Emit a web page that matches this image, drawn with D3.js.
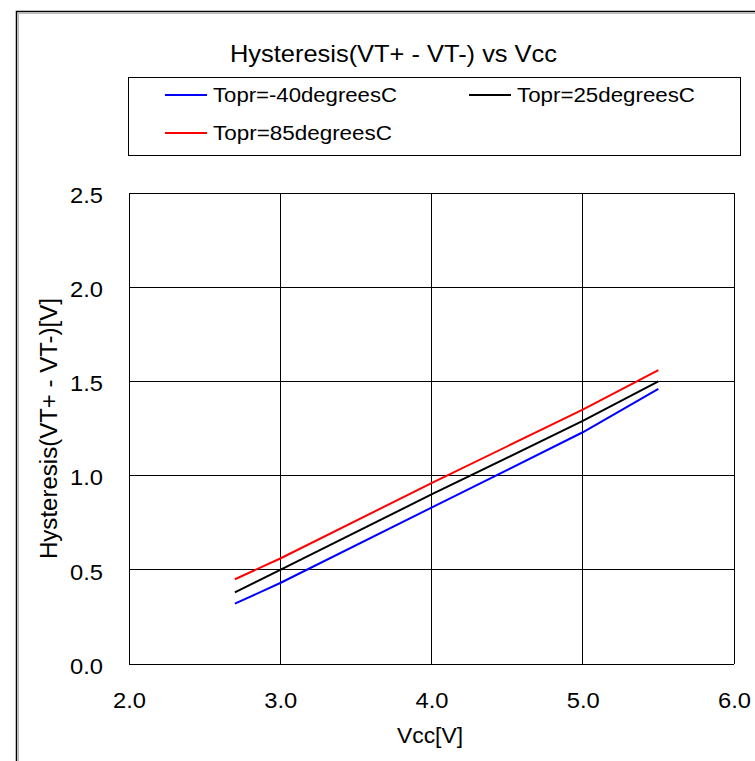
<!DOCTYPE html>
<html lang="en">
<head>
  <meta charset="UTF-8">
  <title>Hysteresis vs Vcc</title>
  <script src="https://d3js.org/d3.v7.min.js"></script>
  <style>
    body { margin: 0; background: #fff; }
    text { font-family: "Liberation Sans", Arial, sans-serif; fill: #000; }
  </style>
</head>
<body>
  <script>
    // data
    const vcc = [2.7, 3.0, 4.0, 5.0, 5.5];
    const hysM40 = [0.32, 0.43, 0.83, 1.23, 1.46];
    const hys25 = [0.38, 0.50, 0.90, 1.29, 1.50];
    const hys85 = [0.45, 0.56, 0.96, 1.35, 1.56];
    const seriesNames = ["Topr=-40degreesC", "Topr=25degreesC", "Topr=85degreesC"];
    const xTicks = [2.0, 3.0, 4.0, 5.0, 6.0];
    const yTicks = [0.0, 0.5, 1.0, 1.5, 2.0, 2.5];

    const colors = ["#0000ff", "#000000", "#ff0000"];
    const series = [hysM40, hys25, hys85].map((v, i) => ({
      name: seriesNames[i], color: colors[i],
      pts: vcc.map((x, j) => [x, v[j]])
    }));

    const width = 755, height = 761;
    const svg = d3.select("body").append("svg")
      .attr("width", width).attr("height", height);

    // outer frame
    svg.append("rect").attr("x", 16.5).attr("y", 11.5)
      .attr("width", width).attr("height", height)
      .attr("fill", "none").attr("stroke", "#000").attr("stroke-width", 1.5);
    svg.append("rect").attr("x", 18.5).attr("y", 13.5)
      .attr("width", width).attr("height", height)
      .attr("fill", "none").attr("stroke", "#bbb").attr("stroke-width", 1);

    const x = d3.scaleLinear().domain([2, 6]).range([129, 734]);
    const y = d3.scaleLinear().domain([0, 2.5]).range([664, 193]);

    // grid
    const grid = svg.append("g").attr("shape-rendering", "crispEdges");
    grid.selectAll(".vx").data(xTicks).enter().append("line")
      .attr("x1", d => x(d)).attr("x2", d => x(d))
      .attr("y1", y(0)).attr("y2", y(2.5))
      .attr("stroke", "#000").attr("stroke-width", 1);
    grid.selectAll(".hy").data(yTicks).enter().append("line")
      .attr("x1", x(2)).attr("x2", x(6))
      .attr("y1", d => y(d)).attr("y2", d => y(d))
      .attr("stroke", "#000").attr("stroke-width", 1);

    // axes (labels only)
    const xAxis = svg.append("g").attr("transform", "translate(0,708)")
      .call(d3.axisBottom(x).tickValues(xTicks).tickFormat(d3.format(".1f")).tickSize(0));
    xAxis.selectAll("text").attr("y", 0).attr("dy", 0);
    const yAxis = svg.append("g").attr("transform", "translate(106,0)")
      .call(d3.axisLeft(y).tickValues(yTicks).tickFormat(d3.format(".1f")).tickSize(0));
    yAxis.selectAll("text").attr("dy", "0.42em");
    [xAxis, yAxis].forEach(a => {
      a.select(".domain").remove();
      a.selectAll("text").attr("font-size", 22)
        .attr("font-family", "'Liberation Sans', Arial, sans-serif").attr("fill", "#000")
        .attr("textLength", 33).attr("lengthAdjust", "spacingAndGlyphs");
    });

    // lines
    const line = d3.line().x(d => x(d[0])).y(d => y(d[1]));
    svg.selectAll(".series").data(series).enter().append("path")
      .attr("d", d => line(d.pts))
      .attr("fill", "none")
      .attr("stroke", d => d.color)
      .attr("stroke-width", 2);

    // title
    svg.append("text").attr("x", 230).attr("y", 62)
      .attr("font-size", 24)
      .attr("textLength", 327).attr("lengthAdjust", "spacingAndGlyphs")
      .text("Hysteresis(VT+ - VT-) vs Vcc");

    // legend
    svg.append("rect").attr("x", 128.5).attr("y", 77.5)
      .attr("width", 612).attr("height", 78)
      .attr("fill", "#fff").attr("stroke", "#000").attr("stroke-width", 1);
    const legPos = [[165, 95], [469, 95], [165, 133]];
    const legLen = [184, 178, 179];
    const leg = svg.selectAll(".leg").data(series).enter().append("g")
      .attr("transform", (d, i) => `translate(${legPos[i][0]},${legPos[i][1]})`);
    leg.append("line").attr("x1", 0).attr("x2", 42).attr("y1", 0).attr("y2", 0)
      .attr("stroke", d => d.color).attr("stroke-width", 2);
    leg.append("text").attr("x", 48).attr("y", 7).attr("font-size", 20)
      .attr("textLength", (d, i) => legLen[i]).attr("lengthAdjust", "spacingAndGlyphs")
      .text(d => d.name);

    // axis titles
    svg.append("text").attr("x", 430).attr("y", 743)
      .attr("text-anchor", "middle").attr("font-size", 22)
      .attr("textLength", 66).attr("lengthAdjust", "spacingAndGlyphs")
      .text("Vcc[V]");
    svg.append("text")
      .attr("transform", `translate(57,${(y(0) + y(2.5)) / 2}) rotate(-90)`)
      .attr("text-anchor", "middle").attr("font-size", 23)
      .attr("textLength", 261).attr("lengthAdjust", "spacingAndGlyphs")
      .text("Hysteresis(VT+ - VT-)[V]");
  </script>
</body>
</html>
